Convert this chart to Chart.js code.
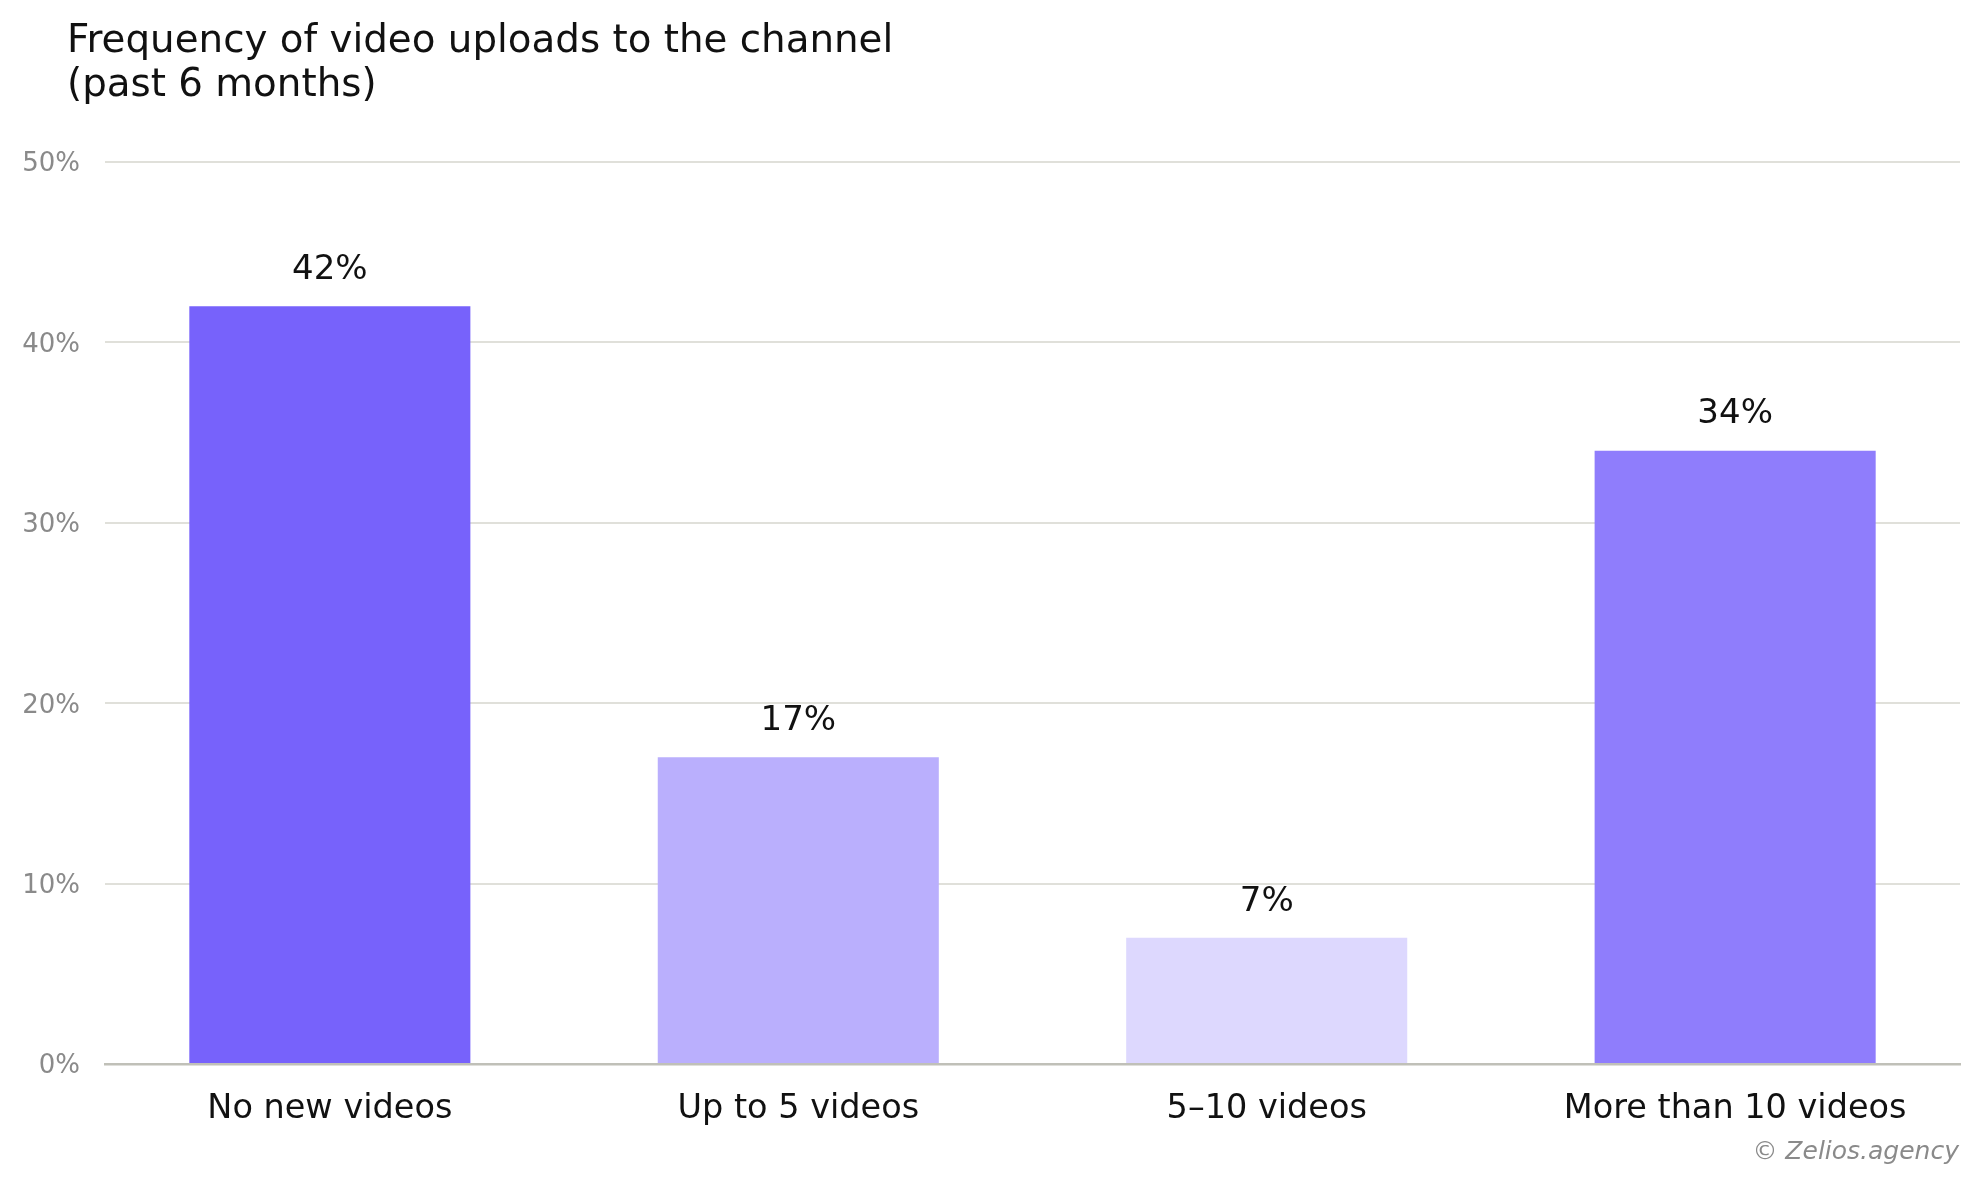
<!DOCTYPE html>
<html>
<head>
<meta charset="utf-8">
<script src="https://cdn.jsdelivr.net/npm/chart.js@4.4.1/dist/chart.umd.min.js"></script>
<style>
  html, body { margin: 0; padding: 0; background: #ffffff; }
  #wrap { position: relative; width: 1979px; height: 1186px; overflow: hidden; }
  #title { position: absolute; left: 67px; top: 17px; font-family: "DejaVu Sans", sans-serif; font-size: 38.8px; line-height: 43.5px; color: #111111; white-space: nowrap; }
  #credit { position: absolute; right: 20px; top: 1136px; font-family: "DejaVu Sans", sans-serif; font-style: italic; font-size: 25px; line-height: 30px; color: #8a8a8a; white-space: nowrap; }
  canvas { position: absolute; left: 0; top: 0; }
</style>
</head>
<body>
<div id="wrap">
  <canvas id="c" width="1979" height="1186"></canvas>
  <div id="title">Frequency of video uploads to the channel<br>(past 6 months)</div>
  <div id="credit">© Zelios.agency</div>
</div>
<script>
const categories = ["No new videos", "Up to 5 videos", "5–10 videos", "More than 10 videos"];
const values = [42, 17, 7, 34];
const barColors = ["#7762FB", "#BAAFFD", "#DDD8FE", "#8F7DFC"];
const yTicks = [0, 10, 20, 30, 40, 50];

const valueLabels = {
  id: 'valueLabels',
  afterDatasetsDraw(chart) {
    const ctx = chart.ctx;
    const meta = chart.getDatasetMeta(0);
    ctx.save();
    ctx.font = '34px "DejaVu Sans", sans-serif';
    ctx.fillStyle = '#111111';
    ctx.textAlign = 'center';
    ctx.textBaseline = 'middle';
    meta.data.forEach((bar, i) => {
      ctx.fillText(values[i] + '%', bar.x, bar.y - 36);
    });
    ctx.restore();
  }
};

new Chart(document.getElementById('c'), {
  type: 'bar',
  data: {
    datasets: [{
      data: values.map((v, i) => ({ x: i, y: v })),
      backgroundColor: barColors,
      borderWidth: 0,
      categoryPercentage: 1,
      barPercentage: 0.6
    }]
  },
  options: {
    responsive: false,
    devicePixelRatio: 1,
    animation: false,
    layout: { padding: { left: 0, right: 19, top: 162, bottom: 0 } },
    plugins: { legend: { display: false }, tooltip: { enabled: false }, title: { display: false } },
    scales: {
      x: {
        type: 'linear',
        min: -0.48,
        max: 3.48,
        offset: false,
        grid: { display: false, offset: false, drawTicks: false },
        border: { display: true, color: '#c0c0b8', width: 2.5 },
        ticks: {
          stepSize: 1,
          includeBounds: false,
          autoSkip: false,
          maxRotation: 0,
          padding: 25,
          color: '#111111',
          font: { family: '"DejaVu Sans", sans-serif', size: 33.5 },
          callback: (v) => (Number.isInteger(v) && categories[v] !== undefined) ? categories[v] : ''
        },
        afterFit(scale) { scale.height = 122; }
      },
      y: {
        min: 0,
        max: 50,
        grid: { color: '#e0e0da', lineWidth: 2, drawTicks: false },
        border: { display: false },
        ticks: {
          stepSize: 10,
          padding: 25,
          color: '#8a8a8a',
          font: { family: '"DejaVu Sans", sans-serif', size: 26, lineHeight: 0.2 },
          callback: (v) => yTicks.includes(v) ? ['', v + '%'] : ''
        },
        afterFit(scale) { scale.width = 105; }
      }
    }
  },
  plugins: [valueLabels]
});
</script>
</body>
</html>
